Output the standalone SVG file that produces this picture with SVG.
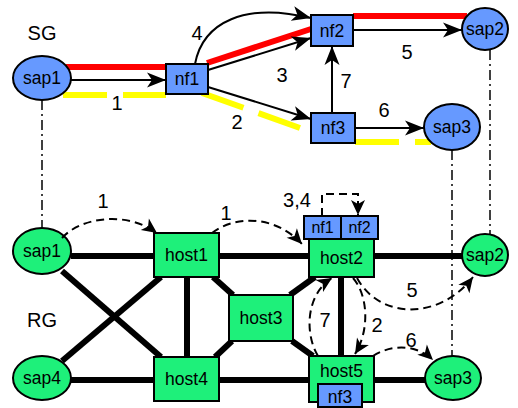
<svg xmlns="http://www.w3.org/2000/svg" width="518" height="408" viewBox="0 0 518 408">
<style>
text{font-family:"Liberation Sans",Arial,sans-serif;text-anchor:middle;fill:#000}
.lbl{font-size:20px}
.nt{font-size:17.5px}
.blue{fill:#6699ff;stroke:#000;stroke-width:2}
.green{fill:#1ef07a;stroke:#000;stroke-width:2}
.arr{stroke:#000;stroke-width:2;fill:none;marker-end:url(#ah)}
.dash{stroke:#000;stroke-width:2;fill:none;stroke-dasharray:8,5;marker-end:url(#dh)}
.thick{stroke:#000;stroke-width:6;fill:none}
.red{stroke:#ff0000;stroke-width:6;fill:none}
.yel{stroke:#ffff00;stroke-width:6;fill:none;stroke-dasharray:44,16}
.dd{stroke:#000;stroke-width:1.5;fill:none;stroke-dasharray:10,4,2,4}
</style>
<defs>
<marker id="ah" markerUnits="userSpaceOnUse" markerWidth="20" markerHeight="16" refX="19" refY="7.5" orient="auto" overflow="visible">
<path d="M0,0 L19,7.5 L0,15 L5,7.5 z" fill="#000"/>
</marker>
<marker id="dh" markerUnits="userSpaceOnUse" markerWidth="16" markerHeight="14" refX="15" refY="7" orient="auto" overflow="visible">
<path d="M0,0 L15,7 L0,14 L4,7 z" fill="#000"/>
</marker>
</defs>

<g id="connectors">
<!-- mapping dash-dot lines -->
<line class="dd" x1="42" y1="100" x2="42" y2="228"/>
<line class="dd" x1="490" y1="50" x2="490" y2="234"/>
<line class="dd" x1="452" y1="150" x2="452" y2="356"/>

<!-- SG highlight paths -->
<line class="red" x1="66" y1="67" x2="166" y2="67"/>
<line class="red" x1="207" y1="63" x2="311" y2="29"/>
<line class="red" x1="353" y1="16" x2="467" y2="16"/>
<line class="yel" x1="63" y1="95" x2="166" y2="95"/>
<line class="yel" x1="202" y1="93" x2="300" y2="128"/>
<line class="yel" x1="355" y1="142" x2="431" y2="142"/>

<!-- SG arrows -->
<line class="arr" x1="71" y1="80" x2="166" y2="80"/>
<line class="arr" x1="208" y1="70" x2="311" y2="38"/>
<path class="arr" d="M195,64 C203,22 245,2 311,18"/>
<line class="arr" x1="208" y1="87" x2="311" y2="119"/>
<line class="arr" x1="332" y1="113" x2="332" y2="46"/>
<line class="arr" x1="353" y1="30" x2="462" y2="30"/>
<line class="arr" x1="355" y1="128" x2="424" y2="128"/>

<!-- RG physical links -->
<line class="thick" x1="71" y1="256" x2="154" y2="256"/>
<line class="thick" x1="219" y1="256" x2="309" y2="256"/>
<line class="thick" x1="374" y1="256" x2="462" y2="256"/>
<line class="thick" x1="71" y1="380" x2="154" y2="380"/>
<line class="thick" x1="219" y1="380" x2="309" y2="380"/>
<line class="thick" x1="374" y1="380" x2="425" y2="380"/>
<line class="thick" x1="62" y1="271" x2="161" y2="357"/>
<line class="thick" x1="62" y1="361" x2="161" y2="277"/>
<line class="thick" x1="187" y1="277" x2="187" y2="357"/>
<line class="thick" x1="213" y1="277" x2="233" y2="295"/>
<line class="thick" x1="215" y1="357" x2="232" y2="341"/>
<line class="thick" x1="290" y1="295" x2="315" y2="277"/>
<line class="thick" x1="292" y1="341" x2="313" y2="356"/>
<line class="thick" x1="341" y1="277" x2="341" y2="356"/>
</g>

<!-- SG nodes -->
<g id="sg-sap1"><ellipse class="blue" cx="42" cy="78" rx="29" ry="22"/><text class="nt" x="42" y="84">sap1</text></g>
<g id="sg-nf1"><rect class="blue" x="166" y="64" width="42" height="30"/><text class="nt" x="187" y="85">nf1</text></g>
<g id="sg-nf2"><rect class="blue" x="311" y="15" width="42" height="31"/><text class="nt" x="332" y="37">nf2</text></g>
<g id="sg-nf3"><rect class="blue" x="311" y="113" width="44" height="30"/><text class="nt" x="333" y="134">nf3</text></g>
<g id="sg-sap2"><ellipse class="blue" cx="485" cy="29" rx="23" ry="21"/><text class="nt" x="485" y="35">sap2</text></g>
<g id="sg-sap3"><ellipse class="blue" cx="452" cy="127" rx="28" ry="23"/><text class="nt" x="452" y="133">sap3</text></g>

<!-- RG nodes -->
<g id="rg-sap1"><ellipse class="green" cx="42" cy="251" rx="29" ry="23"/><text class="nt" x="42" y="257">sap1</text></g>
<g id="rg-sap4"><ellipse class="green" cx="42" cy="378" rx="29" ry="22"/><text class="nt" x="42" y="384">sap4</text></g>
<g id="rg-host1"><rect class="green" x="154" y="233" width="65" height="44"/><text class="nt" x="186.5" y="261">host1</text></g>
<g id="rg-host4"><rect class="green" x="154" y="357" width="65" height="44"/><text class="nt" x="186.5" y="385">host4</text></g>
<g id="rg-host3"><rect class="green" x="229" y="295" width="64" height="46"/><text class="nt" x="261" y="324">host3</text></g>
<g id="rg-host2"><rect class="green" x="309" y="239" width="65" height="38"/><text class="nt" x="341.5" y="264">host2</text>
<rect class="blue" x="304" y="216" width="37" height="23"/><text class="nt" x="322.5" y="233" style="font-size:16px">nf1</text>
<rect class="blue" x="341" y="216" width="37" height="23"/><text class="nt" x="359.5" y="233" style="font-size:16px">nf2</text></g>
<g id="rg-host5"><rect class="green" x="309" y="356" width="65" height="46"/><text class="nt" x="341.5" y="377">host5</text>
<rect class="blue" x="318" y="384" width="44" height="23"/><text class="nt" x="340" y="403">nf3</text></g>
<g id="rg-sap2"><ellipse class="green" cx="485" cy="255" rx="23" ry="21"/><text class="nt" x="485" y="261">sap2</text></g>
<g id="rg-sap3"><ellipse class="green" cx="453" cy="378" rx="28" ry="22"/><text class="nt" x="453" y="384">sap3</text></g>

<!-- RG mapping dashed arrows -->
<g id="mapping">
<path class="dash" d="M62,238 C80,218 125,210 157,233"/>
<path class="dash" d="M212,233 C235,215 275,215 302,244"/>
<path class="dash" d="M322,216 L322,194 L358,194 L358,215"/>
<path class="dash" d="M357,278 C380,320 440,320 473,277"/>
<path class="dash" d="M353,278 C368,295 370,330 355,354"/>
<path class="dash" d="M318,356 C305,335 305,295 332,278"/>
<path class="dash" d="M373,356 C390,345 415,343 433,360"/>
</g>

<!-- labels -->
<g id="labels">
<text class="lbl" x="42" y="40">SG</text>
<text class="lbl" x="42" y="327">RG</text>
<text class="lbl" x="117" y="110">1</text>
<text class="lbl" x="237" y="129">2</text>
<text class="lbl" x="282" y="82">3</text>
<text class="lbl" x="197" y="40">4</text>
<text class="lbl" x="407" y="59">5</text>
<text class="lbl" x="384" y="117">6</text>
<text class="lbl" x="346" y="88">7</text>
<text class="lbl" x="103" y="208">1</text>
<text class="lbl" x="226" y="220">1</text>
<text class="lbl" x="297" y="207">3,4</text>
<text class="lbl" x="412" y="297">5</text>
<text class="lbl" x="377" y="332">2</text>
<text class="lbl" x="325" y="327">7</text>
<text class="lbl" x="411" y="347">6</text>
</g>
</svg>
